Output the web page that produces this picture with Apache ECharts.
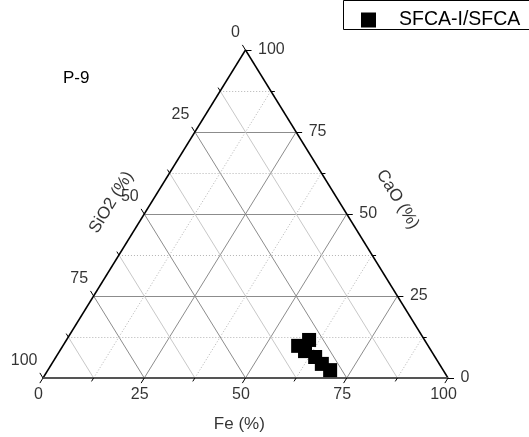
<!DOCTYPE html>
<html>
<head>
<meta charset="utf-8">
<script src="https://cdn.jsdelivr.net/npm/echarts@6/dist/echarts.min.js"></script>
<style>
  html, body { margin: 0; padding: 0; background: #fff; }
  #chart { width: 529px; height: 437px; }
</style>
</head>
<body>
<div id="chart"></div>
<script>
// Composition of each measured spot (percent): Fe + SiO2 + CaO = 100
const seriesName = 'SFCA-I/SFCA';
const feValues   = [59.9, 58.1, 60.6, 64.0, 66.7, 69.7];
const sio2Values = [28.5, 32.1, 31.2, 29.6, 29.0, 27.9];
const caoValues  = [11.6, 9.8, 8.2, 6.4, 4.3, 2.4];

// Ternary scale ticks
const majorTicks = [0, 25, 50, 75, 100];
const minorTicks = [12.5, 37.5, 62.5, 87.5];
const tickLabels = ['0', '25', '50', '75', '100'];

const FONT = '"Liberation Sans", Arial, sans-serif';
const PLOT = { left: 43, top: 50, width: 405, height: 328 };
const sx = PLOT.width / 100, sy = PLOT.height / 100;

// Ternary (Fe, CaO) -> cartesian; SiO2 corner bottom-left, Fe bottom-right, CaO top
function P(fe, cao) { return [fe + cao / 2, cao]; }
// Shift a data point by a pixel vector
function shift(pt, dxPx, dyPx) { return [pt[0] + dxPx / sx, pt[1] - dyPx / sy]; }

const edgeLen = Math.hypot(PLOT.width / 2, PLOT.height);
const ux = (PLOT.width / 2) / edgeLen, uy = PLOT.height / edgeLen;

const MAJOR = { color: '#8c8c8c', width: 1, type: 'solid', opacity: 1 };
const MINOR_SOLID = { color: '#c8c8c8', width: 1, type: 'solid', opacity: 1 };
const MINOR_DOT = { color: '#b4b4b4', width: 1, type: [1, 2], opacity: 1 };

const gridLines = [];
const ticks = [];
function addFamily(values, isMajor) {
  values.forEach(v => {
    const inner = v > 0 && v < 100;
    if (inner) {
      // CaO constant (horizontal)
      gridLines.push({ coords: [P(0, v), P(100 - v, v)], lineStyle: isMajor ? MAJOR : MINOR_DOT });
      // SiO2 constant (parallel to right edge)
      gridLines.push({ coords: [P(0, 100 - v), P(100 - v, 0)], lineStyle: isMajor ? MAJOR : MINOR_SOLID });
      // Fe constant (parallel to left edge)
      gridLines.push({ coords: [P(v, 0), P(v, 100 - v)], lineStyle: isMajor ? MAJOR : MINOR_DOT });
    }
    const L = isMajor ? 6 : 4;
    const st = { color: '#000', width: 1, opacity: 1 };
    const r = P(100 - v, v);          // CaO axis (right edge)
    ticks.push({ coords: [r, shift(r, L, 0)], lineStyle: st });
    const l = P(0, 100 - v);          // SiO2 axis (left edge)
    ticks.push({ coords: [l, shift(l, -ux * L, -uy * L)], lineStyle: st });
    const b = P(v, 0);                // Fe axis (bottom edge)
    ticks.push({ coords: [b, shift(b, -ux * L, uy * L)], lineStyle: st });
  });
}
addFamily(majorTicks, true);
addFamily(minorTicks, false);

const frame = [
  { coords: [P(0, 0), P(0, 100)], lineStyle: { color: '#000', width: 1.5, opacity: 1 } },
  { coords: [P(100, 0), P(0, 100)], lineStyle: { color: '#000', width: 1.5, opacity: 1 } },
  { coords: [P(0, 0), P(100, 0)], lineStyle: { color: '#555', width: 2, opacity: 1 } }
];

function textSeries(data, labelOpt) {
  return {
    type: 'scatter', silent: true, clip: false, symbolSize: 1,
    itemStyle: { color: 'rgba(0,0,0,0)' },
    data: data,
    label: Object.assign({
      show: true, position: [0, 0], formatter: p => p.value[2],
      color: '#000', fontSize: 16, fontFamily: FONT
    }, labelOpt),
    z: 6
  };
}

const bottomLabels = majorTicks.map((v, i) => [...P(v, 0), tickLabels[i]]);
const rightLabels = majorTicks.map((v, i) => [...P(100 - v, v), tickLabels[i]]);
const leftLabels = majorTicks.map((v, i) => [...P(0, 100 - v), tickLabels[i]]);

const points = feValues.map((fe, i) => {
  const total = fe + sio2Values[i] + caoValues[i];
  return P(fe / total * 100, caoValues[i] / total * 100);
});

const chart = echarts.init(document.getElementById('chart'), null, { renderer: 'canvas' });
chart.setOption({
  animation: false,
  backgroundColor: '#fff',
  title: {
    text: 'P-9', left: 58, top: 65,
    textStyle: { fontSize: 17, fontWeight: 'normal', color: '#000', fontFamily: FONT }
  },
  legend: {
    data: [seriesName], left: 361, top: 10, padding: 0,
    icon: 'rect', itemWidth: 15, itemHeight: 15,
    itemStyle: { opacity: 1 },
    textStyle: { fontSize: 19.5, color: '#000', fontFamily: FONT, padding: [0, 0, 0, 18] }
  },
  graphic: [{
    type: 'rect', shape: { x: 343.5, y: 0.5, width: 220, height: 29 },
    style: { fill: 'none', stroke: '#000', lineWidth: 1 }, z: 10
  }],
  grid: { left: PLOT.left, top: PLOT.top, width: PLOT.width, height: PLOT.height },
  xAxis: { type: 'value', min: 0, max: 100, show: false },
  yAxis: { type: 'value', min: 0, max: 100, show: false },
  series: [
    { type: 'lines', coordinateSystem: 'cartesian2d', silent: true, clip: false, data: gridLines, z: 1 },
    { type: 'lines', coordinateSystem: 'cartesian2d', silent: true, clip: false, data: frame.concat(ticks), z: 2 },
    textSeries(bottomLabels, { align: 'center', verticalAlign: 'middle', offset: [-4, 17] }),
    textSeries(rightLabels, { align: 'left', verticalAlign: 'middle', offset: [13, 0] }),
    textSeries(leftLabels, { align: 'right', verticalAlign: 'middle', offset: [-5, -17] }),
    textSeries([[48.6, -14.3, 'Fe (%)']], { align: 'center', verticalAlign: 'middle', fontSize: 17 }),
    textSeries([[17.0, 53.4, 'SiO2 (%)']], { align: 'center', verticalAlign: 'middle', fontSize: 17, rotate: 58.3 }),
    textSeries([[87.7, 54.3, 'CaO (%)']], { align: 'center', verticalAlign: 'middle', fontSize: 17, rotate: -58.3 }),
    {
      name: seriesName, type: 'scatter', clip: false,
      symbol: 'rect', symbolSize: 14,
      itemStyle: { color: '#000', opacity: 1 },
      data: points, z: 8
    }
  ]
});
</script>
</body>
</html>
